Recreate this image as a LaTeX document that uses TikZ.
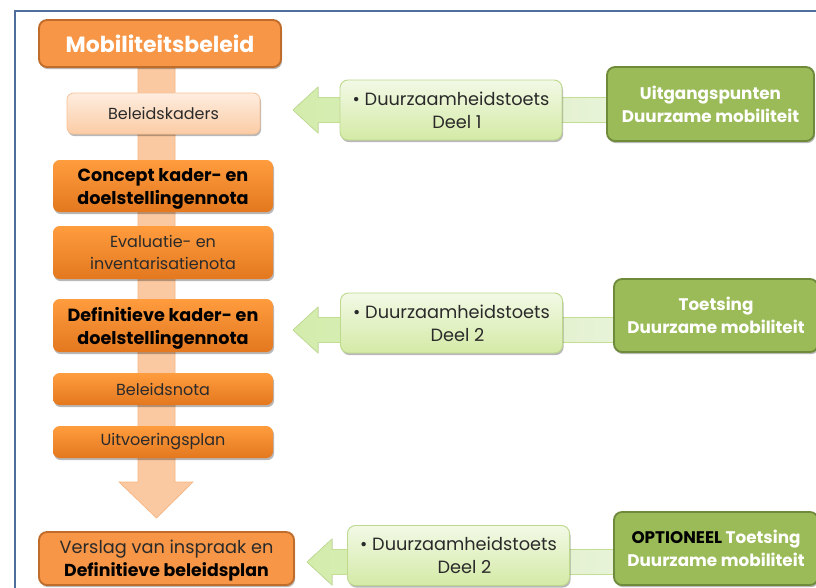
\documentclass[tikz,border=0pt]{standalone}
\usepackage{fontspec}
\setmainfont{Poppins}
\usetikzlibrary{shadows,calc}
\definecolor{frameblue}{HTML}{4F6E9C}
\definecolor{orgdark}{HTML}{F79646}
\definecolor{orgborder}{HTML}{C06D2C}
\definecolor{orgtop}{HTML}{FF9C3E}
\definecolor{orgbot}{HTML}{E3781F}
\definecolor{peachtop}{HTML}{FEEDDF}
\definecolor{peachbot}{HTML}{FBCCA5}
\definecolor{peachborder}{HTML}{F8C198}
\definecolor{shaftc}{HTML}{FBC9A1}
\definecolor{shaftb}{HTML}{F6B683}
\definecolor{lgtop}{HTML}{F2F9E6}
\definecolor{lgbot}{HTML}{D4EAA6}
\definecolor{lgborder}{HTML}{BDD98C}
\definecolor{arrgreen}{HTML}{D3ECAB}
\definecolor{arrpale}{HTML}{E8F3D8}
\definecolor{arrborder}{HTML}{C2DF94}
\definecolor{dgfill}{HTML}{9BBB59}
\definecolor{dgborder}{HTML}{6E8A3A}
\definecolor{txtdark}{HTML}{2A2A2A}
\tikzset{
  sh/.style={drop shadow={shadow xshift=0.8pt,shadow yshift=-1.6pt,opacity=0.28,fill=black}},
  mobbox/.style={draw=orgborder,line width=1.4pt,fill=orgdark,rounded corners=6pt,
    text=white,font={\bfseries\fontsize{16.5}{19}\selectfont},inner sep=0pt,sh},
  orgbox/.style={rounded corners=5pt,top color=orgtop,bottom color=orgbot,
    minimum width=165pt,align=center,inner sep=0pt,text=txtdark,sh},
  boldtxt/.style={font={\bfseries\fontsize{13.2}{17.25}\selectfont},text=black,text depth=0pt},
  normtxt/.style={font={\fontsize{12}{16}\selectfont}},
  peachbox/.style={rounded corners=5pt,top color=peachtop,bottom color=peachbot,
    draw=peachborder,line width=0.6pt,align=center,inner sep=0pt,text=txtdark,sh,
    font={\fontsize{12}{16}\selectfont}},
  versbox/.style={draw=orgborder,line width=1.4pt,fill=orgdark,rounded corners=6pt,
    align=center,inner sep=0pt,font={\fontsize{13.3}{17.25}\selectfont},text=txtdark,
    text depth=0pt,sh},
  lgbox/.style={rounded corners=6pt,top color=lgtop,bottom color=lgbot,draw=lgborder,
    line width=0.7pt,align=center,inner sep=0pt,minimum width=166.5pt,minimum height=45pt,
    text=txtdark,font={\fontsize{13.3}{17.25}\selectfont},sh},
  dgbox/.style={draw=dgborder,line width=1.4pt,fill=dgfill,rounded corners=6pt,
    align=center,inner sep=0pt,text=white,font={\bfseries\fontsize{12.6}{17.25}\selectfont},sh},
  garrow/.style={left color=arrgreen,right color=arrpale,draw=arrborder,line width=0.5pt},
}
\begin{document}
\begin{tikzpicture}[x=0.75pt,y=-0.75pt]
\useasboundingbox (0,0) rectangle (816,587);
\clip (0,0) rectangle (816,587);
\fill[white] (0,0) rectangle (816,587);
% frame
\draw[frameblue,line width=1.6pt] (15,600) -- (15,11) -- (830,11);

% main vertical arrow
\coordinate (vtop) at (156.5,67);
\coordinate (vtip) at (156.5,518);
\filldraw[fill=shaftc,draw=shaftb,line width=0.5pt]
  ($(vtop)+(-18.5,0)$) -- ($(vtip)+(-18.5,-36)$) -- ($(vtip)+(-37.5,-36)$) -- (vtip)
  -- ($(vtip)+(36.5,-36)$) -- ($(vtip)+(18.5,-36)$) -- ($(vtop)+(18.5,0)$) -- cycle;

% left column
\node[mobbox,minimum width=181.5pt,minimum height=35.25pt] (mob) at (160,43.5) {Mobiliteitsbeleid};
\node[peachbox,minimum width=144.75pt,minimum height=30.75pt] (bk) at (163.5,113.5) {Beleidskaders};
\node[orgbox,boldtxt,minimum height=39pt] (c1) at (163,186) {Concept kader- en\\doelstellingennota};
\node[orgbox,normtxt,minimum height=39.75pt] (ev) at (163,252.5) {Evaluatie- en\\inventarisatienota};
\node[orgbox,boldtxt,minimum height=39.75pt] (def) at (163,325.5) {Definitieve kader- en\\doelstellingennota};
\node[orgbox,normtxt,minimum height=24pt] (bn) at (163,389) {Beleidsnota};
\node[orgbox,normtxt,minimum height=24pt] (uv) at (163,442) {Uitvoeringsplan};
\node[versbox,minimum width=191.25pt,minimum height=39.75pt] (vs) at (166.5,558.5)
  {Verslag van inspraak en\\{\bfseries\color{black}\fontsize{13}{17.25}\selectfont Definitieve beleidsplan}};

% green arrows: from the dark green boxes (ends e1..e3) to the left column (tips t1..t3)
\coordinate (t1) at (293,110);   \coordinate (e1) at (609,110);
\coordinate (t2) at (293,330);   \coordinate (e2) at (616,330);
\coordinate (t3) at (307,562);   \coordinate (e3) at (616,562);
\foreach \t/\e in {t1/e1,t2/e2,t3/e3}{
  \filldraw[garrow]
    (\t) -- ($(\t)+(25,-23)$) -- ($(\t)+(25,-12.5)$) -- ($(\e)+(0,-12.5)$)
    -- ($(\e)+(0,12.5)$) -- ($(\t)+(25,12.5)$) -- ($(\t)+(25,23)$) -- cycle;
}

\node[lgbox] (lg1) at (451,110) {• Duurzaamheidstoets\\\hphantom{• }Deel 1};
\node[lgbox] (lg2) at (451.5,323) {• Duurzaamheidstoets\\\hphantom{• }Deel 2};
\node[lgbox] (lg3) at (458.5,555.5) {• Duurzaamheidstoets\\\hphantom{• }Deel 2};

% dark green boxes
\node[dgbox,minimum width=155.25pt,minimum height=55.5pt] (dg1) at (710.5,104)
  {Uitgangspunten\\Duurzame mobiliteit};
\node[dgbox,minimum width=153pt,minimum height=54.75pt] (dg2) at (716,315.5)
  {Toetsing\\Duurzame mobiliteit};
\node[dgbox,minimum width=153pt,minimum height=54.75pt] (dg3) at (716,548.5)
  {{\color{black}OPTIONEEL} Toetsing\\Duurzame mobiliteit};
\end{tikzpicture}
\end{document}
